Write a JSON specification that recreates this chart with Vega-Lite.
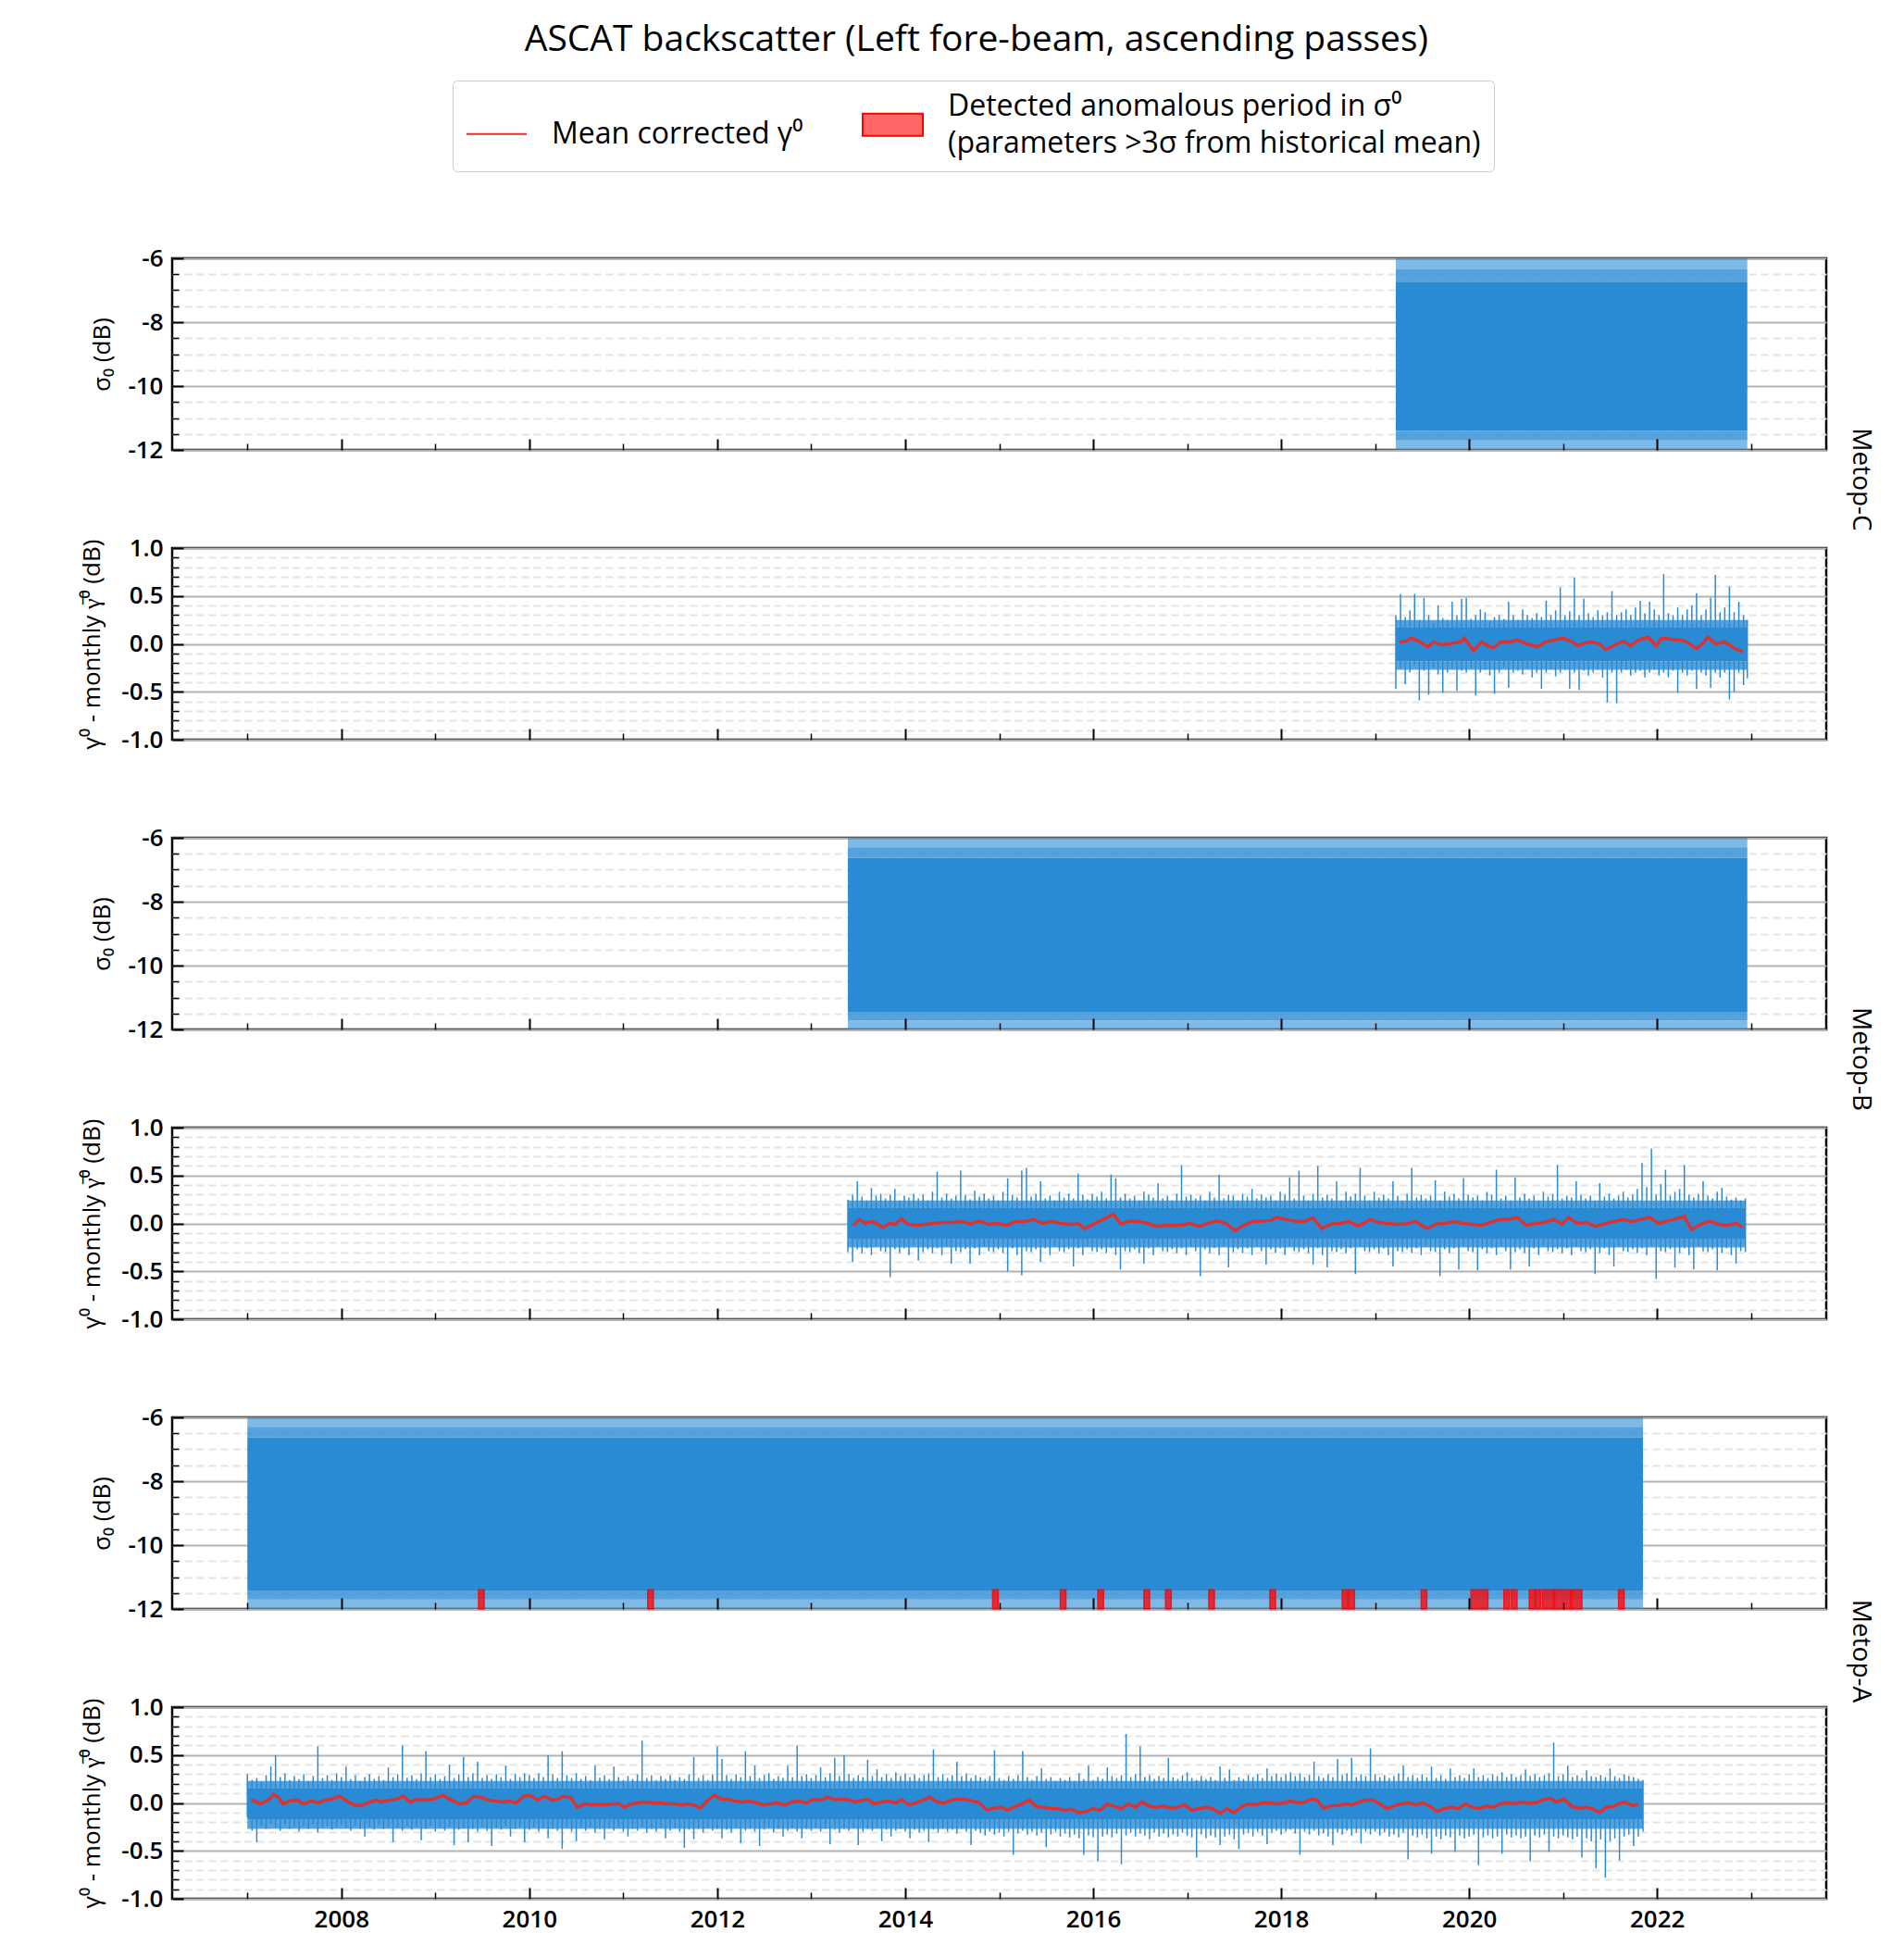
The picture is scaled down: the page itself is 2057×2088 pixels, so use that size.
{
"$schema": "https://vega.github.io/schema/vega-lite/v6.json",
"background": "white",
"padding": {"left": 85, "top": 23, "right": 10, "bottom": 0},
"title": {"text": "ASCAT backscatter (Left fore-beam, ascending passes)", "fontSize": 39, "fontWeight": "normal", "font": "Open Sans", "color": "black", "anchor": "middle", "offset": 24},
"config": {
  "font": "Open Sans",
  "view": {"stroke": "black", "strokeWidth": 2.5},
  "axis": {"domain": false, "labelFont": "Open Sans", "labelFontSize": 26, "labelFontWeight": 600, "labelColor": "black", "titleFont": "Open Sans", "titleFontSize": 26, "titleFontWeight": "normal", "titleColor": "black", "tickColor": "black", "labelOverlap": false, "labelFlush": false}
},
"datasets": {
  "sig": [
    {"s":"C","t0":2019.22,"t1":2022.96,"lo":-11.4,"hi":-6.75,"p":"core"},
    {"s":"C","t0":2019.22,"t1":2022.96,"lo":-6.75,"hi":-6.35,"p":"inner"},
    {"s":"C","t0":2019.22,"t1":2022.96,"lo":-6.35,"hi":-6.0,"p":"outer"},
    {"s":"C","t0":2019.22,"t1":2022.96,"lo":-11.7,"hi":-11.4,"p":"inner"},
    {"s":"C","t0":2019.22,"t1":2022.96,"lo":-12.0,"hi":-11.7,"p":"outer"},
    {"s":"B","t0":2013.39,"t1":2022.96,"lo":-11.45,"hi":-6.62,"p":"core"},
    {"s":"B","t0":2013.39,"t1":2022.96,"lo":-6.62,"hi":-6.3,"p":"inner"},
    {"s":"B","t0":2013.39,"t1":2022.96,"lo":-6.3,"hi":-6.0,"p":"outer"},
    {"s":"B","t0":2013.39,"t1":2022.96,"lo":-11.72,"hi":-11.45,"p":"inner"},
    {"s":"B","t0":2013.39,"t1":2022.96,"lo":-12.0,"hi":-11.72,"p":"outer"},
    {"s":"A","t0":2007.0,"t1":2021.85,"lo":-11.42,"hi":-6.62,"p":"core"},
    {"s":"A","t0":2007.0,"t1":2021.85,"lo":-6.62,"hi":-6.3,"p":"inner"},
    {"s":"A","t0":2007.0,"t1":2021.85,"lo":-6.3,"hi":-6.0,"p":"outer"},
    {"s":"A","t0":2007.0,"t1":2021.85,"lo":-11.7,"hi":-11.42,"p":"inner"},
    {"s":"A","t0":2007.0,"t1":2021.85,"lo":-12.0,"hi":-11.7,"p":"outer"}
  ],
  "core": [
    {"s":"C","t0":2019.22,"t1":2022.96,"lo":-0.18,"hi":0.17,"p":"core"},
    {"s":"C","t0":2019.22,"t1":2022.96,"lo":0.17,"hi":0.25,"p":"inner"},
    {"s":"C","t0":2019.22,"t1":2022.96,"lo":-0.27,"hi":-0.18,"p":"inner"},
    {"s":"B","t0":2013.39,"t1":2022.94,"lo":-0.16,"hi":0.16,"p":"core"},
    {"s":"B","t0":2013.39,"t1":2022.94,"lo":0.16,"hi":0.24,"p":"inner"},
    {"s":"B","t0":2013.39,"t1":2022.94,"lo":-0.25,"hi":-0.16,"p":"inner"},
    {"s":"A","t0":2007.0,"t1":2021.85,"lo":-0.17,"hi":0.15,"p":"core"},
    {"s":"A","t0":2007.0,"t1":2021.85,"lo":0.15,"hi":0.23,"p":"inner"},
    {"s":"A","t0":2007.0,"t1":2021.85,"lo":-0.27,"hi":-0.17,"p":"inner"}
  ],
  "anom": [
    {"t0":2009.46,"t1":2009.52},{"t0":2011.26,"t1":2011.32},{"t0":2014.93,"t1":2014.99},{"t0":2015.65,"t1":2015.71},
    {"t0":2016.05,"t1":2016.11},{"t0":2016.54,"t1":2016.60},{"t0":2016.77,"t1":2016.83},{"t0":2017.23,"t1":2017.29},
    {"t0":2017.88,"t1":2017.94},{"t0":2018.65,"t1":2018.71},{"t0":2018.72,"t1":2018.78},{"t0":2019.49,"t1":2019.55},
    {"t0":2020.02,"t1":2020.20},{"t0":2020.37,"t1":2020.43},{"t0":2020.45,"t1":2020.51},{"t0":2020.64,"t1":2020.70},
    {"t0":2020.71,"t1":2020.76},{"t0":2020.78,"t1":2020.90},{"t0":2020.91,"t1":2021.08},{"t0":2021.09,"t1":2021.20},
    {"t0":2021.59,"t1":2021.65}
  ],
  "mC": [
    {"t":2019.26,"m":0.02},{"t":2019.33,"m":0.03},{"t":2019.39,"m":0.06},{"t":2019.46,"m":0.03},{"t":2019.56,"m":-0.03},{"t":2019.62,"m":0.02},{"t":2019.70,"m":-0.01},{"t":2019.78,"m":0.0},{"t":2019.91,"m":0.02},{"t":2019.95,"m":0.06},{"t":2020.01,"m":-0.02},{"t":2020.05,"m":-0.07},{"t":2020.13,"m":0.02},{"t":2020.20,"m":-0.02},{"t":2020.26,"m":-0.04},{"t":2020.34,"m":0.02},{"t":2020.44,"m":0.02},{"t":2020.505,"m":0.04},{"t":2020.61,"m":0.0},{"t":2020.73,"m":-0.03},{"t":2020.81,"m":0.02},{"t":2020.90,"m":0.04},{"t":2021.00,"m":0.06},{"t":2021.08,"m":0.03},{"t":2021.16,"m":-0.02},{"t":2021.23,"m":0.01},{"t":2021.31,"m":0.02},{"t":2021.39,"m":0.0},{"t":2021.45,"m":-0.06},{"t":2021.555,"m":-0.01},{"t":2021.64,"m":0.03},{"t":2021.72,"m":-0.02},{"t":2021.80,"m":0.04},{"t":2021.905,"m":0.07},{"t":2021.99,"m":-0.02},{"t":2022.05,"m":0.06},{"t":2022.13,"m":0.05},{"t":2022.21,"m":0.04},{"t":2022.30,"m":0.03},{"t":2022.42,"m":-0.05},{"t":2022.48,"m":0.0},{"t":2022.54,"m":0.07},{"t":2022.63,"m":0.0},{"t":2022.71,"m":0.02},{"t":2022.77,"m":-0.01},{"t":2022.83,"m":-0.05},{"t":2022.91,"m":-0.08}
  ],
  "mB": [
    {"t":2013.448,"m":-0.02},{"t":2013.512,"m":0.04},{"t":2013.576,"m":0.0},{"t":2013.64,"m":0.02},{"t":2013.704,"m":-0.006},{"t":2013.767,"m":-0.04},{"t":2013.831,"m":0.0},{"t":2013.895,"m":-0.01},{"t":2013.959,"m":0.05},{"t":2014.023,"m":-0.006},{"t":2014.119,"m":-0.02},{"t":2014.215,"m":-0.01},{"t":2014.311,"m":0.0},{"t":2014.407,"m":0.01},{"t":2014.503,"m":0.01},{"t":2014.599,"m":0.02},{"t":2014.695,"m":-0.006},{"t":2014.791,"m":0.025},{"t":2014.886,"m":-0.01},{"t":2014.982,"m":0.0},{"t":2015.078,"m":-0.02},{"t":2015.174,"m":0.02},{"t":2015.27,"m":0.02},{"t":2015.366,"m":0.04},{"t":2015.462,"m":0.0},{"t":2015.558,"m":0.02},{"t":2015.654,"m":0.0},{"t":2015.75,"m":-0.01},{"t":2015.845,"m":-0.006},{"t":2015.909,"m":-0.054},{"t":2016.005,"m":-0.006},{"t":2016.101,"m":0.04},{"t":2016.216,"m":0.095},{"t":2016.293,"m":-0.006},{"t":2016.389,"m":0.025},{"t":2016.485,"m":0.02},{"t":2016.581,"m":0.0},{"t":2016.677,"m":-0.03},{"t":2016.805,"m":-0.02},{"t":2016.932,"m":-0.02},{"t":2017.028,"m":0.0},{"t":2017.124,"m":-0.03},{"t":2017.22,"m":0.0},{"t":2017.316,"m":0.025},{"t":2017.412,"m":0.0},{"t":2017.508,"m":-0.076},{"t":2017.604,"m":-0.02},{"t":2017.7,"m":0.02},{"t":2017.796,"m":0.025},{"t":2017.892,"m":0.03},{"t":2017.955,"m":0.063},{"t":2018.051,"m":0.04},{"t":2018.147,"m":0.025},{"t":2018.243,"m":0.02},{"t":2018.339,"m":0.057},{"t":2018.435,"m":-0.054},{"t":2018.531,"m":-0.006},{"t":2018.627,"m":0.0},{"t":2018.723,"m":0.02},{"t":2018.819,"m":-0.03},{"t":2018.947,"m":0.04},{"t":2019.042,"m":0.01},{"t":2019.138,"m":0.0},{"t":2019.234,"m":-0.01},{"t":2019.33,"m":-0.006},{"t":2019.426,"m":0.02},{"t":2019.554,"m":-0.054},{"t":2019.65,"m":-0.006},{"t":2019.746,"m":0.0},{"t":2019.842,"m":0.02},{"t":2019.938,"m":0.0},{"t":2020.033,"m":-0.01},{"t":2020.129,"m":-0.02},{"t":2020.225,"m":0.01},{"t":2020.321,"m":0.04},{"t":2020.417,"m":0.04},{"t":2020.513,"m":0.063},{"t":2020.609,"m":-0.02},{"t":2020.705,"m":0.0},{"t":2020.801,"m":0.01},{"t":2020.897,"m":0.04},{"t":2020.993,"m":-0.006},{"t":2021.056,"m":0.063},{"t":2021.152,"m":0.0},{"t":2021.248,"m":0.01},{"t":2021.344,"m":-0.03},{"t":2021.44,"m":-0.006},{"t":2021.536,"m":0.02},{"t":2021.632,"m":0.04},{"t":2021.728,"m":0.02},{"t":2021.824,"m":0.04},{"t":2021.92,"m":0.063},{"t":2022.016,"m":0.0},{"t":2022.112,"m":0.025},{"t":2022.207,"m":0.05},{"t":2022.29,"m":0.073},{"t":2022.367,"m":-0.063},{"t":2022.463,"m":-0.01},{"t":2022.559,"m":0.025},{"t":2022.655,"m":-0.01},{"t":2022.751,"m":-0.02},{"t":2022.847,"m":0.0},{"t":2022.911,"m":-0.04}
  ],
  "mA": [
    {"t":2007.04,"m":0.03},{"t":2007.08,"m":0.02},{"t":2007.13,"m":-0.01},{"t":2007.18,"m":0.01},{"t":2007.23,"m":0.035},{"t":2007.28,"m":0.09},{"t":2007.33,"m":0.06},{"t":2007.38,"m":-0.01},{"t":2007.45,"m":0.02},{"t":2007.53,"m":0.03},{"t":2007.60,"m":-0.01},{"t":2007.68,"m":0.02},{"t":2007.75,"m":0.0},{"t":2007.83,"m":0.03},{"t":2007.90,"m":0.04},{"t":2007.98,"m":0.07},{"t":2008.06,"m":0.02},{"t":2008.13,"m":-0.02},{"t":2008.21,"m":-0.03},{"t":2008.28,"m":0.0},{"t":2008.36,"m":0.03},{"t":2008.43,"m":0.01},{"t":2008.51,"m":0.03},{"t":2008.58,"m":0.035},{"t":2008.66,"m":0.07},{"t":2008.73,"m":0.01},{"t":2008.81,"m":0.035},{"t":2008.88,"m":0.03},{"t":2008.98,"m":0.04},{"t":2009.08,"m":0.08},{"t":2009.16,"m":0.035},{"t":2009.26,"m":-0.01},{"t":2009.33,"m":0.0},{"t":2009.41,"m":0.07},{"t":2009.48,"m":0.06},{"t":2009.56,"m":0.03},{"t":2009.63,"m":0.02},{"t":2009.71,"m":0.01},{"t":2009.79,"m":0.02},{"t":2009.86,"m":0.0},{"t":2009.94,"m":0.07},{"t":2010.01,"m":0.08},{"t":2010.09,"m":0.03},{"t":2010.16,"m":0.07},{"t":2010.24,"m":0.03},{"t":2010.31,"m":0.04},{"t":2010.36,"m":0.07},{"t":2010.44,"m":0.06},{"t":2010.51,"m":-0.045},{"t":2010.59,"m":-0.01},{"t":2010.66,"m":-0.02},{"t":2010.74,"m":-0.015},{"t":2010.81,"m":-0.02},{"t":2010.89,"m":-0.01},{"t":2010.96,"m":-0.01},{"t":2011.01,"m":-0.045},{"t":2011.09,"m":-0.01},{"t":2011.16,"m":0.0},{"t":2011.24,"m":0.01},{"t":2011.32,"m":0.0},{"t":2011.39,"m":0.0},{"t":2011.47,"m":-0.01},{"t":2011.54,"m":-0.01},{"t":2011.62,"m":-0.02},{"t":2011.69,"m":-0.01},{"t":2011.77,"m":-0.03},{"t":2011.82,"m":-0.055},{"t":2011.89,"m":0.02},{"t":2011.97,"m":0.08},{"t":2012.04,"m":0.04},{"t":2012.12,"m":0.035},{"t":2012.19,"m":0.02},{"t":2012.27,"m":0.01},{"t":2012.34,"m":0.02},{"t":2012.42,"m":0.0},{"t":2012.49,"m":-0.02},{"t":2012.57,"m":-0.01},{"t":2012.64,"m":0.0},{"t":2012.72,"m":-0.02},{"t":2012.79,"m":0.01},{"t":2012.87,"m":0.02},{"t":2012.95,"m":0.0},{"t":2013.02,"m":0.035},{"t":2013.10,"m":0.03},{"t":2013.17,"m":0.06},{"t":2013.25,"m":0.035},{"t":2013.32,"m":0.04},{"t":2013.40,"m":0.03},{"t":2013.47,"m":0.01},{"t":2013.55,"m":0.03},{"t":2013.60,"m":0.035},{"t":2013.67,"m":-0.01},{"t":2013.75,"m":0.01},{"t":2013.82,"m":0.02},{"t":2013.90,"m":0.0},{"t":2013.96,"m":0.035},{"t":2014.04,"m":-0.02},{"t":2014.11,"m":0.0},{"t":2014.19,"m":0.03},{"t":2014.26,"m":0.06},{"t":2014.34,"m":0.01},{"t":2014.42,"m":0.0},{"t":2014.49,"m":0.03},{"t":2014.57,"m":0.04},{"t":2014.64,"m":0.035},{"t":2014.72,"m":0.02},{"t":2014.79,"m":0.0},{"t":2014.87,"m":-0.075},{"t":2014.94,"m":-0.055},{"t":2015.02,"m":-0.045},{"t":2015.09,"m":-0.075},{"t":2015.17,"m":-0.035},{"t":2015.24,"m":-0.01},{"t":2015.32,"m":0.03},{"t":2015.39,"m":-0.035},{"t":2015.47,"m":-0.045},{"t":2015.54,"m":-0.055},{"t":2015.62,"m":-0.06},{"t":2015.69,"m":-0.075},{"t":2015.77,"m":-0.065},{"t":2015.84,"m":-0.1},{"t":2015.92,"m":-0.09},{"t":2016.00,"m":-0.06},{"t":2016.07,"m":-0.075},{"t":2016.15,"m":-0.01},{"t":2016.22,"m":-0.035},{"t":2016.30,"m":-0.06},{"t":2016.37,"m":-0.01},{"t":2016.45,"m":-0.045},{"t":2016.52,"m":0.01},{"t":2016.60,"m":-0.035},{"t":2016.67,"m":-0.045},{"t":2016.75,"m":-0.03},{"t":2016.82,"m":-0.055},{"t":2016.90,"m":-0.045},{"t":2016.97,"m":-0.02},{"t":2017.05,"m":-0.075},{"t":2017.12,"m":-0.06},{"t":2017.20,"m":-0.045},{"t":2017.27,"m":-0.06},{"t":2017.35,"m":-0.11},{"t":2017.42,"m":-0.06},{"t":2017.50,"m":-0.1},{"t":2017.57,"m":-0.045},{"t":2017.65,"m":-0.01},{"t":2017.73,"m":-0.02},{"t":2017.80,"m":0.0},{"t":2017.88,"m":0.0},{"t":2017.95,"m":-0.01},{"t":2018.03,"m":0.0},{"t":2018.10,"m":0.02},{"t":2018.18,"m":0.0},{"t":2018.25,"m":0.01},{"t":2018.33,"m":0.04},{"t":2018.38,"m":0.03},{"t":2018.45,"m":-0.055},{"t":2018.53,"m":-0.03},{"t":2018.60,"m":-0.03},{"t":2018.68,"m":-0.01},{"t":2018.75,"m":-0.02},{"t":2018.83,"m":0.01},{"t":2018.90,"m":0.03},{"t":2018.98,"m":0.03},{"t":2019.05,"m":-0.01},{"t":2019.13,"m":-0.06},{"t":2019.20,"m":-0.03},{"t":2019.28,"m":-0.01},{"t":2019.36,"m":0.0},{"t":2019.43,"m":-0.02},{"t":2019.51,"m":0.0},{"t":2019.58,"m":-0.035},{"t":2019.66,"m":-0.09},{"t":2019.73,"m":-0.06},{"t":2019.81,"m":-0.045},{"t":2019.88,"m":-0.06},{"t":2019.96,"m":-0.01},{"t":2020.03,"m":-0.045},{"t":2020.11,"m":-0.06},{"t":2020.18,"m":-0.03},{"t":2020.26,"m":-0.045},{"t":2020.33,"m":-0.01},{"t":2020.41,"m":0.0},{"t":2020.48,"m":-0.01},{"t":2020.56,"m":0.01},{"t":2020.63,"m":0.0},{"t":2020.71,"m":0.0},{"t":2020.78,"m":0.03},{"t":2020.86,"m":0.05},{"t":2020.93,"m":0.01},{"t":2021.01,"m":0.04},{"t":2021.09,"m":-0.035},{"t":2021.16,"m":-0.055},{"t":2021.24,"m":-0.045},{"t":2021.31,"m":-0.06},{"t":2021.39,"m":-0.1},{"t":2021.46,"m":-0.045},{"t":2021.54,"m":-0.035},{"t":2021.61,"m":0.0},{"t":2021.66,"m":0.01},{"t":2021.74,"m":-0.03},{"t":2021.80,"m":-0.01}
  ],
  "gC": [
    {"t":2019.22,"lo":-0.47,"hi":0.3},{"t":2019.27,"lo":-0.25,"hi":0.52},{"t":2019.32,"lo":-0.42,"hi":0.28},{"t":2019.37,"lo":-0.3,"hi":0.35},{"t":2019.42,"lo":-0.22,"hi":0.52},{"t":2019.47,"lo":-0.59,"hi":0.25},{"t":2019.52,"lo":-0.28,"hi":0.48},{"t":2019.57,"lo":-0.53,"hi":0.3},{"t":2019.62,"lo":-0.25,"hi":0.22},{"t":2019.67,"lo":-0.32,"hi":0.4},{"t":2019.72,"lo":-0.51,"hi":0.27},{"t":2019.77,"lo":-0.3,"hi":0.25},{"t":2019.82,"lo":-0.26,"hi":0.44},{"t":2019.87,"lo":-0.49,"hi":0.3},{"t":2019.92,"lo":-0.28,"hi":0.47},{"t":2019.97,"lo":-0.3,"hi":0.48},
    {"t":2020.02,"lo":-0.25,"hi":0.26},{"t":2020.07,"lo":-0.54,"hi":0.3},{"t":2020.12,"lo":-0.3,"hi":0.36},{"t":2020.17,"lo":-0.27,"hi":0.33},{"t":2020.22,"lo":-0.33,"hi":0.24},{"t":2020.27,"lo":-0.52,"hi":0.28},{"t":2020.32,"lo":-0.3,"hi":0.3},{"t":2020.37,"lo":-0.25,"hi":0.26},{"t":2020.42,"lo":-0.46,"hi":0.44},{"t":2020.47,"lo":-0.3,"hi":0.3},{"t":2020.52,"lo":-0.28,"hi":0.25},{"t":2020.57,"lo":-0.32,"hi":0.36},{"t":2020.62,"lo":-0.26,"hi":0.3},{"t":2020.67,"lo":-0.35,"hi":0.27},{"t":2020.72,"lo":-0.3,"hi":0.32},{"t":2020.77,"lo":-0.47,"hi":0.28},{"t":2020.82,"lo":-0.3,"hi":0.45},{"t":2020.87,"lo":-0.26,"hi":0.3},{"t":2020.92,"lo":-0.34,"hi":0.35},{"t":2020.97,"lo":-0.3,"hi":0.59},
    {"t":2021.02,"lo":-0.27,"hi":0.3},{"t":2021.07,"lo":-0.47,"hi":0.34},{"t":2021.12,"lo":-0.3,"hi":0.69},{"t":2021.17,"lo":-0.48,"hi":0.3},{"t":2021.22,"lo":-0.28,"hi":0.47},{"t":2021.27,"lo":-0.33,"hi":0.32},{"t":2021.32,"lo":-0.3,"hi":0.28},{"t":2021.37,"lo":-0.27,"hi":0.35},{"t":2021.42,"lo":-0.35,"hi":0.3},{"t":2021.47,"lo":-0.61,"hi":0.33},{"t":2021.52,"lo":-0.3,"hi":0.55},{"t":2021.57,"lo":-0.62,"hi":0.3},{"t":2021.62,"lo":-0.3,"hi":0.33},{"t":2021.67,"lo":-0.27,"hi":0.36},{"t":2021.72,"lo":-0.33,"hi":0.3},{"t":2021.77,"lo":-0.3,"hi":0.38},{"t":2021.82,"lo":-0.28,"hi":0.45},{"t":2021.87,"lo":-0.35,"hi":0.32},{"t":2021.92,"lo":-0.3,"hi":0.44},{"t":2021.97,"lo":-0.27,"hi":0.36},
    {"t":2022.02,"lo":-0.33,"hi":0.3},{"t":2022.07,"lo":-0.3,"hi":0.73},{"t":2022.12,"lo":-0.35,"hi":0.32},{"t":2022.17,"lo":-0.28,"hi":0.3},{"t":2022.22,"lo":-0.51,"hi":0.38},{"t":2022.27,"lo":-0.3,"hi":0.3},{"t":2022.32,"lo":-0.33,"hi":0.36},{"t":2022.37,"lo":-0.28,"hi":0.4},{"t":2022.42,"lo":-0.47,"hi":0.53},{"t":2022.47,"lo":-0.3,"hi":0.3},{"t":2022.52,"lo":-0.33,"hi":0.36},{"t":2022.57,"lo":-0.46,"hi":0.48},{"t":2022.62,"lo":-0.3,"hi":0.72},{"t":2022.67,"lo":-0.35,"hi":0.33},{"t":2022.72,"lo":-0.3,"hi":0.38},{"t":2022.77,"lo":-0.58,"hi":0.6},{"t":2022.82,"lo":-0.5,"hi":0.33},{"t":2022.87,"lo":-0.3,"hi":0.44},{"t":2022.92,"lo":-0.43,"hi":0.3},{"t":2022.96,"lo":-0.36,"hi":0.25}
  ],
  "gB": [
    {"t":2013.39,"lo":-0.30,"hi":0.25},{"t":2013.44,"lo":-0.40,"hi":0.30},{"t":2013.49,"lo":-0.27,"hi":0.44},{"t":2013.54,"lo":-0.31,"hi":0.28},{"t":2013.59,"lo":-0.26,"hi":0.24},{"t":2013.64,"lo":-0.33,"hi":0.37},{"t":2013.69,"lo":-0.24,"hi":0.29},{"t":2013.74,"lo":-0.29,"hi":0.31},{"t":2013.79,"lo":-0.30,"hi":0.26},{"t":2013.84,"lo":-0.56,"hi":0.30},{"t":2013.89,"lo":-0.27,"hi":0.36},{"t":2013.94,"lo":-0.31,"hi":0.24},{"t":2013.99,"lo":-0.26,"hi":0.29},
    {"t":2014.04,"lo":-0.33,"hi":0.27},{"t":2014.09,"lo":-0.23,"hi":0.31},{"t":2014.14,"lo":-0.39,"hi":0.26},{"t":2014.19,"lo":-0.30,"hi":0.30},{"t":2014.24,"lo":-0.27,"hi":0.24},{"t":2014.29,"lo":-0.31,"hi":0.33},{"t":2014.34,"lo":-0.26,"hi":0.54},{"t":2014.39,"lo":-0.33,"hi":0.27},{"t":2014.44,"lo":-0.24,"hi":0.31},{"t":2014.49,"lo":-0.42,"hi":0.26},{"t":2014.54,"lo":-0.29,"hi":0.29},{"t":2014.59,"lo":-0.30,"hi":0.55},{"t":2014.64,"lo":-0.27,"hi":0.30},{"t":2014.69,"lo":-0.42,"hi":0.25},{"t":2014.74,"lo":-0.26,"hi":0.34},{"t":2014.79,"lo":-0.33,"hi":0.28},{"t":2014.84,"lo":-0.24,"hi":0.31},{"t":2014.89,"lo":-0.29,"hi":0.26},{"t":2014.94,"lo":-0.30,"hi":0.29},{"t":2014.99,"lo":-0.27,"hi":0.24},
    {"t":2015.04,"lo":-0.31,"hi":0.33},{"t":2015.09,"lo":-0.50,"hi":0.47},{"t":2015.14,"lo":-0.26,"hi":0.30},{"t":2015.19,"lo":-0.33,"hi":0.27},{"t":2015.24,"lo":-0.54,"hi":0.55},{"t":2015.29,"lo":-0.29,"hi":0.58},{"t":2015.34,"lo":-0.30,"hi":0.28},{"t":2015.39,"lo":-0.27,"hi":0.31},{"t":2015.44,"lo":-0.40,"hi":0.44},{"t":2015.49,"lo":-0.26,"hi":0.26},{"t":2015.54,"lo":-0.33,"hi":0.29},{"t":2015.59,"lo":-0.24,"hi":0.24},{"t":2015.64,"lo":-0.29,"hi":0.33},{"t":2015.69,"lo":-0.30,"hi":0.27},{"t":2015.74,"lo":-0.27,"hi":0.31},{"t":2015.79,"lo":-0.45,"hi":0.26},{"t":2015.84,"lo":-0.26,"hi":0.52},{"t":2015.89,"lo":-0.33,"hi":0.30},{"t":2015.94,"lo":-0.24,"hi":0.25},{"t":2015.99,"lo":-0.29,"hi":0.31},
    {"t":2016.04,"lo":-0.30,"hi":0.28},{"t":2016.09,"lo":-0.27,"hi":0.33},{"t":2016.14,"lo":-0.31,"hi":0.26},{"t":2016.19,"lo":-0.26,"hi":0.51},{"t":2016.24,"lo":-0.33,"hi":0.47},{"t":2016.29,"lo":-0.48,"hi":0.27},{"t":2016.34,"lo":-0.29,"hi":0.31},{"t":2016.39,"lo":-0.30,"hi":0.26},{"t":2016.44,"lo":-0.27,"hi":0.29},{"t":2016.49,"lo":-0.31,"hi":0.24},{"t":2016.54,"lo":-0.42,"hi":0.33},{"t":2016.59,"lo":-0.26,"hi":0.30},{"t":2016.64,"lo":-0.33,"hi":0.27},{"t":2016.69,"lo":-0.24,"hi":0.42},{"t":2016.74,"lo":-0.29,"hi":0.26},{"t":2016.79,"lo":-0.30,"hi":0.29},{"t":2016.84,"lo":-0.27,"hi":0.24},{"t":2016.89,"lo":-0.31,"hi":0.31},{"t":2016.94,"lo":-0.26,"hi":0.61},{"t":2016.99,"lo":-0.33,"hi":0.28},
    {"t":2017.04,"lo":-0.24,"hi":0.30},{"t":2017.09,"lo":-0.29,"hi":0.26},{"t":2017.14,"lo":-0.55,"hi":0.29},{"t":2017.19,"lo":-0.27,"hi":0.24},{"t":2017.24,"lo":-0.31,"hi":0.33},{"t":2017.29,"lo":-0.26,"hi":0.27},{"t":2017.34,"lo":-0.33,"hi":0.51},{"t":2017.39,"lo":-0.24,"hi":0.26},{"t":2017.44,"lo":-0.46,"hi":0.30},{"t":2017.49,"lo":-0.30,"hi":0.29},{"t":2017.54,"lo":-0.27,"hi":0.24},{"t":2017.59,"lo":-0.31,"hi":0.31},{"t":2017.64,"lo":-0.26,"hi":0.28},{"t":2017.69,"lo":-0.33,"hi":0.36},{"t":2017.74,"lo":-0.24,"hi":0.26},{"t":2017.79,"lo":-0.29,"hi":0.30},{"t":2017.84,"lo":-0.43,"hi":0.27},{"t":2017.89,"lo":-0.27,"hi":0.29},{"t":2017.94,"lo":-0.31,"hi":0.24},{"t":2017.99,"lo":-0.26,"hi":0.33},
    {"t":2018.04,"lo":-0.33,"hi":0.30},{"t":2018.09,"lo":-0.24,"hi":0.48},{"t":2018.14,"lo":-0.29,"hi":0.26},{"t":2018.19,"lo":-0.30,"hi":0.55},{"t":2018.24,"lo":-0.27,"hi":0.29},{"t":2018.29,"lo":-0.31,"hi":0.24},{"t":2018.34,"lo":-0.43,"hi":0.31},{"t":2018.39,"lo":-0.26,"hi":0.60},{"t":2018.44,"lo":-0.33,"hi":0.27},{"t":2018.49,"lo":-0.46,"hi":0.30},{"t":2018.54,"lo":-0.29,"hi":0.26},{"t":2018.59,"lo":-0.30,"hi":0.44},{"t":2018.64,"lo":-0.27,"hi":0.24},{"t":2018.69,"lo":-0.31,"hi":0.33},{"t":2018.74,"lo":-0.26,"hi":0.28},{"t":2018.79,"lo":-0.53,"hi":0.31},{"t":2018.84,"lo":-0.24,"hi":0.58},{"t":2018.89,"lo":-0.29,"hi":0.29},{"t":2018.94,"lo":-0.30,"hi":0.24},{"t":2018.99,"lo":-0.27,"hi":0.33},
    {"t":2019.04,"lo":-0.31,"hi":0.27},{"t":2019.09,"lo":-0.26,"hi":0.30},{"t":2019.14,"lo":-0.33,"hi":0.26},{"t":2019.19,"lo":-0.45,"hi":0.44},{"t":2019.24,"lo":-0.29,"hi":0.29},{"t":2019.29,"lo":-0.30,"hi":0.24},{"t":2019.34,"lo":-0.27,"hi":0.31},{"t":2019.39,"lo":-0.31,"hi":0.58},{"t":2019.44,"lo":-0.26,"hi":0.27},{"t":2019.49,"lo":-0.33,"hi":0.30},{"t":2019.54,"lo":-0.24,"hi":0.26},{"t":2019.59,"lo":-0.29,"hi":0.29},{"t":2019.64,"lo":-0.30,"hi":0.45},{"t":2019.69,"lo":-0.55,"hi":0.24},{"t":2019.74,"lo":-0.27,"hi":0.33},{"t":2019.79,"lo":-0.31,"hi":0.28},{"t":2019.84,"lo":-0.26,"hi":0.31},{"t":2019.89,"lo":-0.48,"hi":0.26},{"t":2019.94,"lo":-0.24,"hi":0.47},{"t":2019.99,"lo":-0.29,"hi":0.30},
    {"t":2020.04,"lo":-0.30,"hi":0.27},{"t":2020.09,"lo":-0.49,"hi":0.29},{"t":2020.14,"lo":-0.27,"hi":0.24},{"t":2020.19,"lo":-0.31,"hi":0.33},{"t":2020.24,"lo":-0.26,"hi":0.30},{"t":2020.29,"lo":-0.33,"hi":0.56},{"t":2020.34,"lo":-0.24,"hi":0.26},{"t":2020.39,"lo":-0.29,"hi":0.29},{"t":2020.44,"lo":-0.48,"hi":0.24},{"t":2020.49,"lo":-0.30,"hi":0.48},{"t":2020.54,"lo":-0.27,"hi":0.27},{"t":2020.59,"lo":-0.31,"hi":0.31},{"t":2020.64,"lo":-0.45,"hi":0.26},{"t":2020.69,"lo":-0.26,"hi":0.29},{"t":2020.74,"lo":-0.33,"hi":0.24},{"t":2020.79,"lo":-0.24,"hi":0.33},{"t":2020.84,"lo":-0.29,"hi":0.28},{"t":2020.89,"lo":-0.30,"hi":0.31},{"t":2020.94,"lo":-0.27,"hi":0.61},{"t":2020.99,"lo":-0.31,"hi":0.26},
    {"t":2021.04,"lo":-0.26,"hi":0.29},{"t":2021.09,"lo":-0.33,"hi":0.27},{"t":2021.14,"lo":-0.24,"hi":0.44},{"t":2021.19,"lo":-0.29,"hi":0.30},{"t":2021.24,"lo":-0.30,"hi":0.26},{"t":2021.29,"lo":-0.27,"hi":0.29},{"t":2021.34,"lo":-0.53,"hi":0.24},{"t":2021.39,"lo":-0.31,"hi":0.42},{"t":2021.44,"lo":-0.26,"hi":0.28},{"t":2021.49,"lo":-0.33,"hi":0.31},{"t":2021.54,"lo":-0.45,"hi":0.26},{"t":2021.59,"lo":-0.24,"hi":0.29},{"t":2021.64,"lo":-0.29,"hi":0.33},{"t":2021.69,"lo":-0.30,"hi":0.27},{"t":2021.74,"lo":-0.27,"hi":0.30},{"t":2021.79,"lo":-0.31,"hi":0.36},{"t":2021.84,"lo":-0.26,"hi":0.63},{"t":2021.89,"lo":-0.33,"hi":0.38},{"t":2021.94,"lo":-0.24,"hi":0.78},{"t":2021.99,"lo":-0.58,"hi":0.30},
    {"t":2022.04,"lo":-0.29,"hi":0.41},{"t":2022.09,"lo":-0.30,"hi":0.56},{"t":2022.14,"lo":-0.27,"hi":0.29},{"t":2022.19,"lo":-0.46,"hi":0.33},{"t":2022.24,"lo":-0.31,"hi":0.36},{"t":2022.29,"lo":-0.26,"hi":0.61},{"t":2022.34,"lo":-0.33,"hi":0.30},{"t":2022.39,"lo":-0.48,"hi":0.27},{"t":2022.44,"lo":-0.24,"hi":0.31},{"t":2022.49,"lo":-0.29,"hi":0.44},{"t":2022.54,"lo":-0.30,"hi":0.29},{"t":2022.59,"lo":-0.27,"hi":0.26},{"t":2022.64,"lo":-0.49,"hi":0.33},{"t":2022.69,"lo":-0.31,"hi":0.37},{"t":2022.74,"lo":-0.26,"hi":0.28},{"t":2022.79,"lo":-0.33,"hi":0.25},{"t":2022.84,"lo":-0.42,"hi":0.27},{"t":2022.89,"lo":-0.29,"hi":0.24},{"t":2022.94,"lo":-0.30,"hi":0.26}
  ],
  "gA": [
    {"t":2007.00,"lo":-0.15,"hi":0.30},{"t":2007.05,"lo":-0.29,"hi":0.24},{"t":2007.10,"lo":-0.41,"hi":0.26},{"t":2007.15,"lo":-0.24,"hi":0.22},{"t":2007.20,"lo":-0.27,"hi":0.29},{"t":2007.25,"lo":-0.22,"hi":0.38},{"t":2007.30,"lo":-0.26,"hi":0.50},{"t":2007.35,"lo":-0.29,"hi":0.27},{"t":2007.40,"lo":-0.23,"hi":0.31},{"t":2007.45,"lo":-0.27,"hi":0.24},{"t":2007.50,"lo":-0.25,"hi":0.28},{"t":2007.55,"lo":-0.30,"hi":0.25},{"t":2007.60,"lo":-0.24,"hi":0.30},{"t":2007.65,"lo":-0.27,"hi":0.23},{"t":2007.70,"lo":-0.22,"hi":0.28},{"t":2007.75,"lo":-0.31,"hi":0.59},{"t":2007.80,"lo":-0.26,"hi":0.26},{"t":2007.85,"lo":-0.24,"hi":0.29},{"t":2007.90,"lo":-0.28,"hi":0.24},{"t":2007.95,"lo":-0.25,"hi":0.31},
    {"t":2008.00,"lo":-0.23,"hi":0.27},{"t":2008.05,"lo":-0.26,"hi":0.38},{"t":2008.10,"lo":-0.29,"hi":0.25},{"t":2008.15,"lo":-0.24,"hi":0.29},{"t":2008.20,"lo":-0.27,"hi":0.23},{"t":2008.25,"lo":-0.35,"hi":0.27},{"t":2008.30,"lo":-0.25,"hi":0.30},{"t":2008.35,"lo":-0.28,"hi":0.25},{"t":2008.40,"lo":-0.23,"hi":0.28},{"t":2008.45,"lo":-0.27,"hi":0.24},{"t":2008.50,"lo":-0.25,"hi":0.37},{"t":2008.55,"lo":-0.41,"hi":0.27},{"t":2008.60,"lo":-0.26,"hi":0.30},{"t":2008.65,"lo":-0.29,"hi":0.60},{"t":2008.70,"lo":-0.24,"hi":0.26},{"t":2008.75,"lo":-0.28,"hi":0.29},{"t":2008.80,"lo":-0.25,"hi":0.25},{"t":2008.85,"lo":-0.39,"hi":0.31},{"t":2008.90,"lo":-0.27,"hi":0.54},{"t":2008.95,"lo":-0.24,"hi":0.27},
    {"t":2009.00,"lo":-0.30,"hi":0.30},{"t":2009.05,"lo":-0.26,"hi":0.25},{"t":2009.10,"lo":-0.29,"hi":0.28},{"t":2009.15,"lo":-0.25,"hi":0.40},{"t":2009.20,"lo":-0.44,"hi":0.26},{"t":2009.25,"lo":-0.28,"hi":0.30},{"t":2009.30,"lo":-0.26,"hi":0.48},{"t":2009.35,"lo":-0.41,"hi":0.27},{"t":2009.40,"lo":-0.27,"hi":0.31},{"t":2009.45,"lo":-0.30,"hi":0.43},{"t":2009.50,"lo":-0.25,"hi":0.26},{"t":2009.55,"lo":-0.29,"hi":0.29},{"t":2009.60,"lo":-0.45,"hi":0.25},{"t":2009.65,"lo":-0.26,"hi":0.30},{"t":2009.70,"lo":-0.28,"hi":0.27},{"t":2009.75,"lo":-0.24,"hi":0.39},{"t":2009.80,"lo":-0.35,"hi":0.25},{"t":2009.85,"lo":-0.27,"hi":0.30},{"t":2009.90,"lo":-0.25,"hi":0.27},{"t":2009.95,"lo":-0.41,"hi":0.31},
    {"t":2010.00,"lo":-0.28,"hi":0.29},{"t":2010.05,"lo":-0.25,"hi":0.26},{"t":2010.10,"lo":-0.30,"hi":0.31},{"t":2010.15,"lo":-0.26,"hi":0.27},{"t":2010.20,"lo":-0.37,"hi":0.50},{"t":2010.25,"lo":-0.27,"hi":0.30},{"t":2010.30,"lo":-0.29,"hi":0.26},{"t":2010.35,"lo":-0.48,"hi":0.54},{"t":2010.40,"lo":-0.25,"hi":0.29},{"t":2010.45,"lo":-0.30,"hi":0.26},{"t":2010.50,"lo":-0.40,"hi":0.31},{"t":2010.55,"lo":-0.26,"hi":0.25},{"t":2010.60,"lo":-0.29,"hi":0.28},{"t":2010.65,"lo":-0.25,"hi":0.24},{"t":2010.70,"lo":-0.31,"hi":0.39},{"t":2010.75,"lo":-0.27,"hi":0.26},{"t":2010.80,"lo":-0.38,"hi":0.29},{"t":2010.85,"lo":-0.26,"hi":0.25},{"t":2010.90,"lo":-0.29,"hi":0.38},{"t":2010.95,"lo":-0.25,"hi":0.27},
    {"t":2011.00,"lo":-0.30,"hi":0.24},{"t":2011.05,"lo":-0.35,"hi":0.28},{"t":2011.10,"lo":-0.27,"hi":0.25},{"t":2011.15,"lo":-0.29,"hi":0.30},{"t":2011.20,"lo":-0.25,"hi":0.65},{"t":2011.25,"lo":-0.31,"hi":0.26},{"t":2011.30,"lo":-0.27,"hi":0.29},{"t":2011.35,"lo":-0.30,"hi":0.24},{"t":2011.40,"lo":-0.26,"hi":0.28},{"t":2011.45,"lo":-0.37,"hi":0.25},{"t":2011.50,"lo":-0.29,"hi":0.29},{"t":2011.55,"lo":-0.26,"hi":0.24},{"t":2011.60,"lo":-0.30,"hi":0.27},{"t":2011.65,"lo":-0.47,"hi":0.25},{"t":2011.70,"lo":-0.28,"hi":0.30},{"t":2011.75,"lo":-0.38,"hi":0.48},{"t":2011.80,"lo":-0.27,"hi":0.26},{"t":2011.85,"lo":-0.31,"hi":0.29},{"t":2011.90,"lo":-0.26,"hi":0.24},{"t":2011.95,"lo":-0.29,"hi":0.30},
    {"t":2012.00,"lo":-0.27,"hi":0.59},{"t":2012.05,"lo":-0.37,"hi":0.46},{"t":2012.10,"lo":-0.28,"hi":0.29},{"t":2012.15,"lo":-0.31,"hi":0.25},{"t":2012.20,"lo":-0.26,"hi":0.30},{"t":2012.25,"lo":-0.42,"hi":0.27},{"t":2012.30,"lo":-0.29,"hi":0.54},{"t":2012.35,"lo":-0.27,"hi":0.28},{"t":2012.40,"lo":-0.30,"hi":0.39},{"t":2012.45,"lo":-0.45,"hi":0.26},{"t":2012.50,"lo":-0.28,"hi":0.29},{"t":2012.55,"lo":-0.26,"hi":0.31},{"t":2012.60,"lo":-0.31,"hi":0.25},{"t":2012.65,"lo":-0.27,"hi":0.28},{"t":2012.70,"lo":-0.35,"hi":0.26},{"t":2012.75,"lo":-0.29,"hi":0.39},{"t":2012.80,"lo":-0.26,"hi":0.27},{"t":2012.85,"lo":-0.30,"hi":0.60},{"t":2012.90,"lo":-0.37,"hi":0.28},{"t":2012.95,"lo":-0.27,"hi":0.30},
    {"t":2013.00,"lo":-0.29,"hi":0.26},{"t":2013.05,"lo":-0.26,"hi":0.29},{"t":2013.10,"lo":-0.30,"hi":0.37},{"t":2013.15,"lo":-0.27,"hi":0.27},{"t":2013.20,"lo":-0.43,"hi":0.31},{"t":2013.25,"lo":-0.28,"hi":0.47},{"t":2013.30,"lo":-0.31,"hi":0.28},{"t":2013.35,"lo":-0.27,"hi":0.50},{"t":2013.40,"lo":-0.29,"hi":0.30},{"t":2013.45,"lo":-0.26,"hi":0.26},{"t":2013.50,"lo":-0.44,"hi":0.29},{"t":2013.55,"lo":-0.30,"hi":0.27},{"t":2013.60,"lo":-0.27,"hi":0.45},{"t":2013.65,"lo":-0.29,"hi":0.28},{"t":2013.70,"lo":-0.26,"hi":0.35},{"t":2013.75,"lo":-0.40,"hi":0.27},{"t":2013.80,"lo":-0.28,"hi":0.30},{"t":2013.85,"lo":-0.35,"hi":0.26},{"t":2013.90,"lo":-0.29,"hi":0.32},{"t":2013.95,"lo":-0.27,"hi":0.28},
    {"t":2014.00,"lo":-0.30,"hi":0.31},{"t":2014.05,"lo":-0.37,"hi":0.27},{"t":2014.10,"lo":-0.28,"hi":0.30},{"t":2014.15,"lo":-0.31,"hi":0.26},{"t":2014.20,"lo":-0.29,"hi":0.29},{"t":2014.25,"lo":-0.41,"hi":0.31},{"t":2014.30,"lo":-0.28,"hi":0.56},{"t":2014.35,"lo":-0.31,"hi":0.27},{"t":2014.40,"lo":-0.27,"hi":0.30},{"t":2014.45,"lo":-0.30,"hi":0.26},{"t":2014.50,"lo":-0.28,"hi":0.29},{"t":2014.55,"lo":-0.32,"hi":0.43},{"t":2014.60,"lo":-0.27,"hi":0.28},{"t":2014.65,"lo":-0.30,"hi":0.31},{"t":2014.70,"lo":-0.44,"hi":0.26},{"t":2014.75,"lo":-0.29,"hi":0.29},{"t":2014.80,"lo":-0.31,"hi":0.27},{"t":2014.85,"lo":-0.34,"hi":0.25},{"t":2014.90,"lo":-0.30,"hi":0.28},{"t":2014.95,"lo":-0.33,"hi":0.55},
    {"t":2015.00,"lo":-0.31,"hi":0.26},{"t":2015.05,"lo":-0.35,"hi":0.24},{"t":2015.10,"lo":-0.30,"hi":0.28},{"t":2015.15,"lo":-0.54,"hi":0.25},{"t":2015.20,"lo":-0.32,"hi":0.29},{"t":2015.25,"lo":-0.29,"hi":0.54},{"t":2015.30,"lo":-0.33,"hi":0.27},{"t":2015.35,"lo":-0.30,"hi":0.24},{"t":2015.40,"lo":-0.34,"hi":0.28},{"t":2015.45,"lo":-0.31,"hi":0.36},{"t":2015.50,"lo":-0.46,"hi":0.25},{"t":2015.55,"lo":-0.33,"hi":0.27},{"t":2015.60,"lo":-0.30,"hi":0.23},{"t":2015.65,"lo":-0.35,"hi":0.26},{"t":2015.70,"lo":-0.32,"hi":0.24},{"t":2015.75,"lo":-0.36,"hi":0.27},{"t":2015.80,"lo":-0.33,"hi":0.23},{"t":2015.85,"lo":-0.37,"hi":0.31},{"t":2015.90,"lo":-0.54,"hi":0.25},{"t":2015.95,"lo":-0.34,"hi":0.39},
    {"t":2016.00,"lo":-0.36,"hi":0.24},{"t":2016.05,"lo":-0.61,"hi":0.27},{"t":2016.10,"lo":-0.35,"hi":0.25},{"t":2016.15,"lo":-0.33,"hi":0.37},{"t":2016.20,"lo":-0.36,"hi":0.28},{"t":2016.25,"lo":-0.32,"hi":0.26},{"t":2016.30,"lo":-0.64,"hi":0.29},{"t":2016.35,"lo":-0.34,"hi":0.72},{"t":2016.40,"lo":-0.31,"hi":0.27},{"t":2016.45,"lo":-0.35,"hi":0.30},{"t":2016.50,"lo":-0.32,"hi":0.59},{"t":2016.55,"lo":-0.34,"hi":0.27},{"t":2016.60,"lo":-0.38,"hi":0.29},{"t":2016.65,"lo":-0.31,"hi":0.25},{"t":2016.70,"lo":-0.35,"hi":0.28},{"t":2016.75,"lo":-0.32,"hi":0.26},{"t":2016.80,"lo":-0.36,"hi":0.47},{"t":2016.85,"lo":-0.33,"hi":0.27},{"t":2016.90,"lo":-0.35,"hi":0.25},{"t":2016.95,"lo":-0.31,"hi":0.29},
    {"t":2017.00,"lo":-0.34,"hi":0.32},{"t":2017.05,"lo":-0.36,"hi":0.26},{"t":2017.10,"lo":-0.57,"hi":0.24},{"t":2017.15,"lo":-0.33,"hi":0.28},{"t":2017.20,"lo":-0.37,"hi":0.25},{"t":2017.25,"lo":-0.34,"hi":0.27},{"t":2017.30,"lo":-0.36,"hi":0.24},{"t":2017.35,"lo":-0.44,"hi":0.38},{"t":2017.40,"lo":-0.35,"hi":0.26},{"t":2017.45,"lo":-0.33,"hi":0.35},{"t":2017.50,"lo":-0.38,"hi":0.24},{"t":2017.55,"lo":-0.48,"hi":0.27},{"t":2017.60,"lo":-0.33,"hi":0.25},{"t":2017.65,"lo":-0.31,"hi":0.29},{"t":2017.70,"lo":-0.35,"hi":0.27},{"t":2017.75,"lo":-0.30,"hi":0.30},{"t":2017.80,"lo":-0.34,"hi":0.26},{"t":2017.85,"lo":-0.43,"hi":0.36},{"t":2017.90,"lo":-0.31,"hi":0.28},{"t":2017.95,"lo":-0.29,"hi":0.31},
    {"t":2018.00,"lo":-0.33,"hi":0.27},{"t":2018.05,"lo":-0.30,"hi":0.30},{"t":2018.10,"lo":-0.28,"hi":0.32},{"t":2018.15,"lo":-0.32,"hi":0.28},{"t":2018.20,"lo":-0.54,"hi":0.31},{"t":2018.25,"lo":-0.30,"hi":0.27},{"t":2018.30,"lo":-0.33,"hi":0.29},{"t":2018.35,"lo":-0.29,"hi":0.43},{"t":2018.40,"lo":-0.34,"hi":0.28},{"t":2018.45,"lo":-0.32,"hi":0.26},{"t":2018.50,"lo":-0.35,"hi":0.30},{"t":2018.55,"lo":-0.44,"hi":0.27},{"t":2018.60,"lo":-0.31,"hi":0.46},{"t":2018.65,"lo":-0.33,"hi":0.29},{"t":2018.70,"lo":-0.29,"hi":0.31},{"t":2018.75,"lo":-0.34,"hi":0.47},{"t":2018.80,"lo":-0.31,"hi":0.27},{"t":2018.85,"lo":-0.42,"hi":0.30},{"t":2018.90,"lo":-0.30,"hi":0.28},{"t":2018.95,"lo":-0.33,"hi":0.57},
    {"t":2019.00,"lo":-0.30,"hi":0.30},{"t":2019.05,"lo":-0.34,"hi":0.27},{"t":2019.10,"lo":-0.31,"hi":0.29},{"t":2019.15,"lo":-0.35,"hi":0.26},{"t":2019.20,"lo":-0.33,"hi":0.28},{"t":2019.25,"lo":-0.36,"hi":0.31},{"t":2019.30,"lo":-0.31,"hi":0.39},{"t":2019.35,"lo":-0.59,"hi":0.27},{"t":2019.40,"lo":-0.34,"hi":0.29},{"t":2019.45,"lo":-0.36,"hi":0.26},{"t":2019.50,"lo":-0.33,"hi":0.30},{"t":2019.55,"lo":-0.37,"hi":0.27},{"t":2019.60,"lo":-0.53,"hi":0.38},{"t":2019.65,"lo":-0.35,"hi":0.26},{"t":2019.70,"lo":-0.38,"hi":0.29},{"t":2019.75,"lo":-0.34,"hi":0.25},{"t":2019.80,"lo":-0.36,"hi":0.36},{"t":2019.85,"lo":-0.51,"hi":0.27},{"t":2019.90,"lo":-0.34,"hi":0.29},{"t":2019.95,"lo":-0.37,"hi":0.26},
    {"t":2020.00,"lo":-0.35,"hi":0.30},{"t":2020.05,"lo":-0.33,"hi":0.36},{"t":2020.10,"lo":-0.65,"hi":0.27},{"t":2020.15,"lo":-0.36,"hi":0.29},{"t":2020.20,"lo":-0.34,"hi":0.26},{"t":2020.25,"lo":-0.37,"hi":0.30},{"t":2020.30,"lo":-0.35,"hi":0.28},{"t":2020.35,"lo":-0.53,"hi":0.32},{"t":2020.40,"lo":-0.33,"hi":0.27},{"t":2020.45,"lo":-0.36,"hi":0.30},{"t":2020.50,"lo":-0.34,"hi":0.27},{"t":2020.55,"lo":-0.37,"hi":0.29},{"t":2020.60,"lo":-0.35,"hi":0.35},{"t":2020.65,"lo":-0.61,"hi":0.28},{"t":2020.70,"lo":-0.34,"hi":0.30},{"t":2020.75,"lo":-0.36,"hi":0.27},{"t":2020.80,"lo":-0.33,"hi":0.29},{"t":2020.85,"lo":-0.51,"hi":0.31},{"t":2020.90,"lo":-0.35,"hi":0.63},{"t":2020.95,"lo":-0.37,"hi":0.28},
    {"t":2021.00,"lo":-0.34,"hi":0.30},{"t":2021.05,"lo":-0.36,"hi":0.39},{"t":2021.10,"lo":-0.38,"hi":0.27},{"t":2021.15,"lo":-0.35,"hi":0.29},{"t":2021.20,"lo":-0.57,"hi":0.26},{"t":2021.25,"lo":-0.37,"hi":0.34},{"t":2021.30,"lo":-0.40,"hi":0.28},{"t":2021.35,"lo":-0.68,"hi":0.27},{"t":2021.40,"lo":-0.38,"hi":0.29},{"t":2021.45,"lo":-0.78,"hi":0.27},{"t":2021.50,"lo":-0.40,"hi":0.36},{"t":2021.55,"lo":-0.37,"hi":0.28},{"t":2021.60,"lo":-0.60,"hi":0.26},{"t":2021.65,"lo":-0.35,"hi":0.30},{"t":2021.70,"lo":-0.33,"hi":0.28},{"t":2021.75,"lo":-0.45,"hi":0.27},{"t":2021.80,"lo":-0.35,"hi":0.25},{"t":2021.85,"lo":-0.30,"hi":0.24}
  ]
},
"spacing": 76,
"vconcat": [
  {
    "title": {"text": "Metop-C", "orient": "right", "anchor": "middle", "fontSize": 28, "fontWeight": "normal", "color": "black", "offset": 22, "dx": -21},
    "spacing": 76,
    "vconcat": [
      {"width": 1787, "height": 207,
       "data": {"name": "sig"}, "transform": [{"filter": "datum.s == 'C'"}],
       "mark": {"type": "rect", "color": "#2a8bd5"},
       "encoding": {
         "x": {"field": "t0", "type": "quantitative", "scale": {"domain": [2006.2, 2023.8], "nice": false, "zero": false},
               "axis": {"title": null, "values": [2007,2008,2009,2010,2011,2012,2013,2014,2015,2016,2017,2018,2019,2020,2021,2022,2023], "tickCount": 100, "labels": false, "grid": false, "zindex": 1,
                        "tickSize": {"condition": {"test": "datum.value % 2 == 0", "value": -12}, "value": -7},
                        "tickWidth": {"condition": {"test": "datum.value % 2 == 0", "value": 2}, "value": 1.5}}},
         "x2": {"field": "t1"},
         "y": {"field": "lo", "type": "quantitative", "scale": {"domain": [-12, -6], "nice": false, "zero": false},
               "axis": {"title": "σ₀ (dB)", "titlePadding": 14, "values": [-12,-11.5,-11,-10.5,-10,-9.5,-9,-8.5,-8,-7.5,-7,-6.5,-6], "tickCount": 100,
                        "labelExpr": "abs(datum.value / 2 - round(datum.value / 2)) < 0.001 ? (datum.value < 0 ? '-' : '') + abs(datum.value) : ''",
                        "labelPadding": 22, "grid": true, "gridWidth": 2,
                        "gridColor": {"condition": {"test": "abs(datum.value / 2 - round(datum.value / 2)) < 0.001", "value": "#b3b3b3"}, "value": "#e4e4e4"},
                        "gridDash": {"condition": {"test": "abs(datum.value / 2 - round(datum.value / 2)) < 0.001", "value": []}, "value": [8, 5]},
                        "tickSize": {"condition": {"test": "abs(datum.value / 2 - round(datum.value / 2)) < 0.001", "value": -12}, "value": -7},
                        "tickWidth": {"condition": {"test": "abs(datum.value / 2 - round(datum.value / 2)) < 0.001", "value": 2}, "value": 1.5}}},
         "y2": {"field": "hi"},
         "opacity": {"field": "p", "type": "nominal", "scale": {"domain": ["core", "inner", "outer"], "range": [1, 0.6, 0.35]}, "legend": null}
       }},
      {"width": 1787, "height": 207,
       "layer": [
         {"data": {"name": "core"}, "transform": [{"filter": "datum.s == 'C'"}],
          "mark": {"type": "rect", "color": "#2a8bd5"},
          "encoding": {
            "x": {"field": "t0", "type": "quantitative", "scale": {"domain": [2006.2, 2023.8], "nice": false, "zero": false},
                  "axis": {"title": null, "values": [2007,2008,2009,2010,2011,2012,2013,2014,2015,2016,2017,2018,2019,2020,2021,2022,2023], "tickCount": 100, "labels": false, "grid": false, "zindex": 1,
                           "tickSize": {"condition": {"test": "datum.value % 2 == 0", "value": -12}, "value": -7},
                           "tickWidth": {"condition": {"test": "datum.value % 2 == 0", "value": 2}, "value": 1.5}}},
            "x2": {"field": "t1"},
            "y": {"field": "lo", "type": "quantitative", "scale": {"domain": [-1, 1], "nice": false, "zero": false},
                  "axis": {"title": "γ⁰ - monthly γ̅⁰ (dB)", "titlePadding": 18, "values": [-1,-0.9,-0.8,-0.7,-0.6,-0.5,-0.4,-0.3,-0.2,-0.1,0,0.1,0.2,0.3,0.4,0.5,0.6,0.7,0.8,0.9,1], "tickCount": 100,
                           "labelExpr": "abs(datum.value * 2 - round(datum.value * 2)) < 0.001 ? (datum.value < -0.001 ? '-' : '') + format(abs(datum.value), '.1f') : ''",
                           "labelPadding": 22, "grid": true, "gridWidth": 2,
                           "gridColor": {"condition": {"test": "abs(datum.value * 2 - round(datum.value * 2)) < 0.001", "value": "#b3b3b3"}, "value": "#e4e4e4"},
                           "gridDash": {"condition": {"test": "abs(datum.value * 2 - round(datum.value * 2)) < 0.001", "value": []}, "value": [8, 5]},
                           "tickSize": {"condition": {"test": "abs(datum.value * 2 - round(datum.value * 2)) < 0.001", "value": -12}, "value": -7},
                           "tickWidth": {"condition": {"test": "abs(datum.value * 2 - round(datum.value * 2)) < 0.001", "value": 2}, "value": 1.5}}},
            "y2": {"field": "hi"},
            "opacity": {"field": "p", "type": "nominal", "scale": {"domain": ["core", "inner", "outer"], "range": [1, 0.6, 0.35]}, "legend": null}
          }},
         {"data": {"name": "gC"}, "mark": {"type": "rule", "color": "#2a8bd5", "strokeWidth": 1.5},
          "encoding": {"x": {"field": "t", "type": "quantitative", "scale": {"domain": [2006.2, 2023.8], "nice": false, "zero": false}},
                       "y": {"field": "lo", "type": "quantitative", "scale": {"domain": [-1, 1], "nice": false, "zero": false}}, "y2": {"field": "hi"}}},
         {"data": {"name": "mC"}, "mark": {"type": "line", "strokeWidth": 3.5},
          "encoding": {"x": {"field": "t", "type": "quantitative", "scale": {"domain": [2006.2, 2023.8], "nice": false, "zero": false}},
                       "y": {"field": "m", "type": "quantitative", "scale": {"domain": [-1, 1], "nice": false, "zero": false}},
                       "color": {"datum": "Mean corrected γ⁰", "type": "nominal",
                                 "scale": {"domain": ["Mean corrected γ⁰", "Detected anomalous period in σ⁰"], "range": ["#dc3232", "#ff0000"]},
                                 "legend": {"orient": "none", "legendX": 303, "legendY": -192, "direction": "horizontal", "columns": 2, "title": null,
                                            "labelFont": "Open Sans", "labelFontSize": 32, "labelColor": "black", "labelLimit": 1000, "labelOffset": 26,
                                            "columnPadding": 60, "padding": 14, "symbolSize": 4225, "symbolStrokeWidth": 2, "strokeColor": "#cccccc", "cornerRadius": 5, "fillColor": "white",
                                            "labelExpr": "datum.label == 'Detected anomalous period in σ⁰' ? ['Detected anomalous period in σ⁰', '(parameters >3σ from historical mean)'] : datum.label",
                                            "encode": {
                                              "symbols": {"update": {
                                                "shape": {"signal": "datum.value == 'Mean corrected γ⁰' ? 'M-1,0H1' : 'M-1,-0.37H1V0.37H-1Z'"},
                                                "fillOpacity": {"value": 0.6}}},
                                              "labels": {"update": {"lineHeight": {"value": 40},
                                                "dy": {"signal": "datum.value == 'Detected anomalous period in σ⁰' ? -20 : 0"}}}}}}}}
       ]}
    ]
  },
  {
    "title": {"text": "Metop-B", "orient": "right", "anchor": "middle", "fontSize": 28, "fontWeight": "normal", "color": "black", "offset": 22, "dx": -21},
    "spacing": 76,
    "vconcat": [
      {"width": 1787, "height": 207,
       "data": {"name": "sig"}, "transform": [{"filter": "datum.s == 'B'"}],
       "mark": {"type": "rect", "color": "#2a8bd5"},
       "encoding": {
         "x": {"field": "t0", "type": "quantitative", "scale": {"domain": [2006.2, 2023.8], "nice": false, "zero": false},
               "axis": {"title": null, "values": [2007,2008,2009,2010,2011,2012,2013,2014,2015,2016,2017,2018,2019,2020,2021,2022,2023], "tickCount": 100, "labels": false, "grid": false, "zindex": 1,
                        "tickSize": {"condition": {"test": "datum.value % 2 == 0", "value": -12}, "value": -7},
                        "tickWidth": {"condition": {"test": "datum.value % 2 == 0", "value": 2}, "value": 1.5}}},
         "x2": {"field": "t1"},
         "y": {"field": "lo", "type": "quantitative", "scale": {"domain": [-12, -6], "nice": false, "zero": false},
               "axis": {"title": "σ₀ (dB)", "titlePadding": 14, "values": [-12,-11.5,-11,-10.5,-10,-9.5,-9,-8.5,-8,-7.5,-7,-6.5,-6], "tickCount": 100,
                        "labelExpr": "abs(datum.value / 2 - round(datum.value / 2)) < 0.001 ? (datum.value < 0 ? '-' : '') + abs(datum.value) : ''",
                        "labelPadding": 22, "grid": true, "gridWidth": 2,
                        "gridColor": {"condition": {"test": "abs(datum.value / 2 - round(datum.value / 2)) < 0.001", "value": "#b3b3b3"}, "value": "#e4e4e4"},
                        "gridDash": {"condition": {"test": "abs(datum.value / 2 - round(datum.value / 2)) < 0.001", "value": []}, "value": [8, 5]},
                        "tickSize": {"condition": {"test": "abs(datum.value / 2 - round(datum.value / 2)) < 0.001", "value": -12}, "value": -7},
                        "tickWidth": {"condition": {"test": "abs(datum.value / 2 - round(datum.value / 2)) < 0.001", "value": 2}, "value": 1.5}}},
         "y2": {"field": "hi"},
         "opacity": {"field": "p", "type": "nominal", "scale": {"domain": ["core", "inner", "outer"], "range": [1, 0.6, 0.35]}, "legend": null}
       }},
      {"width": 1787, "height": 207,
       "layer": [
         {"data": {"name": "core"}, "transform": [{"filter": "datum.s == 'B'"}],
          "mark": {"type": "rect", "color": "#2a8bd5"},
          "encoding": {
            "x": {"field": "t0", "type": "quantitative", "scale": {"domain": [2006.2, 2023.8], "nice": false, "zero": false},
                  "axis": {"title": null, "values": [2007,2008,2009,2010,2011,2012,2013,2014,2015,2016,2017,2018,2019,2020,2021,2022,2023], "tickCount": 100, "labels": false, "grid": false, "zindex": 1,
                           "tickSize": {"condition": {"test": "datum.value % 2 == 0", "value": -12}, "value": -7},
                           "tickWidth": {"condition": {"test": "datum.value % 2 == 0", "value": 2}, "value": 1.5}}},
            "x2": {"field": "t1"},
            "y": {"field": "lo", "type": "quantitative", "scale": {"domain": [-1, 1], "nice": false, "zero": false},
                  "axis": {"title": "γ⁰ - monthly γ̅⁰ (dB)", "titlePadding": 18, "values": [-1,-0.9,-0.8,-0.7,-0.6,-0.5,-0.4,-0.3,-0.2,-0.1,0,0.1,0.2,0.3,0.4,0.5,0.6,0.7,0.8,0.9,1], "tickCount": 100,
                           "labelExpr": "abs(datum.value * 2 - round(datum.value * 2)) < 0.001 ? (datum.value < -0.001 ? '-' : '') + format(abs(datum.value), '.1f') : ''",
                           "labelPadding": 22, "grid": true, "gridWidth": 2,
                           "gridColor": {"condition": {"test": "abs(datum.value * 2 - round(datum.value * 2)) < 0.001", "value": "#b3b3b3"}, "value": "#e4e4e4"},
                           "gridDash": {"condition": {"test": "abs(datum.value * 2 - round(datum.value * 2)) < 0.001", "value": []}, "value": [8, 5]},
                           "tickSize": {"condition": {"test": "abs(datum.value * 2 - round(datum.value * 2)) < 0.001", "value": -12}, "value": -7},
                           "tickWidth": {"condition": {"test": "abs(datum.value * 2 - round(datum.value * 2)) < 0.001", "value": 2}, "value": 1.5}}},
            "y2": {"field": "hi"},
            "opacity": {"field": "p", "type": "nominal", "scale": {"domain": ["core", "inner", "outer"], "range": [1, 0.6, 0.35]}, "legend": null}
          }},
         {"data": {"name": "gB"}, "mark": {"type": "rule", "color": "#2a8bd5", "strokeWidth": 1.5},
          "encoding": {"x": {"field": "t", "type": "quantitative", "scale": {"domain": [2006.2, 2023.8], "nice": false, "zero": false}},
                       "y": {"field": "lo", "type": "quantitative", "scale": {"domain": [-1, 1], "nice": false, "zero": false}}, "y2": {"field": "hi"}}},
         {"data": {"name": "mB"}, "mark": {"type": "line", "strokeWidth": 3.5},
          "encoding": {"x": {"field": "t", "type": "quantitative", "scale": {"domain": [2006.2, 2023.8], "nice": false, "zero": false}},
                       "y": {"field": "m", "type": "quantitative", "scale": {"domain": [-1, 1], "nice": false, "zero": false}},
                       "color": {"datum": "Mean corrected γ⁰", "type": "nominal"}}}
       ]}
    ]
  },
  {
    "title": {"text": "Metop-A", "orient": "right", "anchor": "middle", "fontSize": 28, "fontWeight": "normal", "color": "black", "offset": 22, "dx": -21},
    "spacing": 76,
    "vconcat": [
      {"width": 1787, "height": 207,
       "layer": [
         {"data": {"name": "sig"}, "transform": [{"filter": "datum.s == 'A'"}],
          "mark": {"type": "rect", "color": "#2a8bd5"},
          "encoding": {
            "x": {"field": "t0", "type": "quantitative", "scale": {"domain": [2006.2, 2023.8], "nice": false, "zero": false},
                  "axis": {"title": null, "values": [2007,2008,2009,2010,2011,2012,2013,2014,2015,2016,2017,2018,2019,2020,2021,2022,2023], "tickCount": 100, "labels": false, "grid": false, "zindex": 1,
                           "tickSize": {"condition": {"test": "datum.value % 2 == 0", "value": -12}, "value": -7},
                           "tickWidth": {"condition": {"test": "datum.value % 2 == 0", "value": 2}, "value": 1.5}}},
            "x2": {"field": "t1"},
            "y": {"field": "lo", "type": "quantitative", "scale": {"domain": [-12, -6], "nice": false, "zero": false},
                  "axis": {"title": "σ₀ (dB)", "titlePadding": 14, "values": [-12,-11.5,-11,-10.5,-10,-9.5,-9,-8.5,-8,-7.5,-7,-6.5,-6], "tickCount": 100,
                           "labelExpr": "abs(datum.value / 2 - round(datum.value / 2)) < 0.001 ? (datum.value < 0 ? '-' : '') + abs(datum.value) : ''",
                           "labelPadding": 22, "grid": true, "gridWidth": 2,
                           "gridColor": {"condition": {"test": "abs(datum.value / 2 - round(datum.value / 2)) < 0.001", "value": "#b3b3b3"}, "value": "#e4e4e4"},
                           "gridDash": {"condition": {"test": "abs(datum.value / 2 - round(datum.value / 2)) < 0.001", "value": []}, "value": [8, 5]},
                           "tickSize": {"condition": {"test": "abs(datum.value / 2 - round(datum.value / 2)) < 0.001", "value": -12}, "value": -7},
                           "tickWidth": {"condition": {"test": "abs(datum.value / 2 - round(datum.value / 2)) < 0.001", "value": 2}, "value": 1.5}}},
            "y2": {"field": "hi"},
            "opacity": {"field": "p", "type": "nominal", "scale": {"domain": ["core", "inner", "outer"], "range": [1, 0.6, 0.35]}, "legend": null}
          }},
         {"data": {"name": "anom"},
          "mark": {"type": "rect", "fillOpacity": 0.75, "stroke": "#ff0000", "strokeWidth": 1.5, "strokeOpacity": 0.8},
          "encoding": {
            "x": {"field": "t0", "type": "quantitative", "scale": {"domain": [2006.2, 2023.8], "nice": false, "zero": false}},
            "x2": {"field": "t1"},
            "y": {"datum": -12, "type": "quantitative", "scale": {"domain": [-12, -6], "nice": false, "zero": false}},
            "y2": {"datum": -11.4},
            "color": {"datum": "Detected anomalous period in σ⁰", "type": "nominal"}
          }}
       ]},
      {"width": 1787, "height": 207,
       "layer": [
         {"data": {"name": "core"}, "transform": [{"filter": "datum.s == 'A'"}],
          "mark": {"type": "rect", "color": "#2a8bd5"},
          "encoding": {
            "x": {"field": "t0", "type": "quantitative", "scale": {"domain": [2006.2, 2023.8], "nice": false, "zero": false},
                  "axis": {"title": null, "values": [2007,2008,2009,2010,2011,2012,2013,2014,2015,2016,2017,2018,2019,2020,2021,2022,2023], "tickCount": 100, "labels": true, "grid": false, "zindex": 1,
                           "labelExpr": "datum.value % 2 == 0 ? '' + datum.value : ''", "labelPadding": 21,
                           "tickSize": {"condition": {"test": "datum.value % 2 == 0", "value": -12}, "value": -7},
                           "tickWidth": {"condition": {"test": "datum.value % 2 == 0", "value": 2}, "value": 1.5}}},
            "x2": {"field": "t1"},
            "y": {"field": "lo", "type": "quantitative", "scale": {"domain": [-1, 1], "nice": false, "zero": false},
                  "axis": {"title": "γ⁰ - monthly γ̅⁰ (dB)", "titlePadding": 18, "values": [-1,-0.9,-0.8,-0.7,-0.6,-0.5,-0.4,-0.3,-0.2,-0.1,0,0.1,0.2,0.3,0.4,0.5,0.6,0.7,0.8,0.9,1], "tickCount": 100,
                           "labelExpr": "abs(datum.value * 2 - round(datum.value * 2)) < 0.001 ? (datum.value < -0.001 ? '-' : '') + format(abs(datum.value), '.1f') : ''",
                           "labelPadding": 22, "grid": true, "gridWidth": 2,
                           "gridColor": {"condition": {"test": "abs(datum.value * 2 - round(datum.value * 2)) < 0.001", "value": "#b3b3b3"}, "value": "#e4e4e4"},
                           "gridDash": {"condition": {"test": "abs(datum.value * 2 - round(datum.value * 2)) < 0.001", "value": []}, "value": [8, 5]},
                           "tickSize": {"condition": {"test": "abs(datum.value * 2 - round(datum.value * 2)) < 0.001", "value": -12}, "value": -7},
                           "tickWidth": {"condition": {"test": "abs(datum.value * 2 - round(datum.value * 2)) < 0.001", "value": 2}, "value": 1.5}}},
            "y2": {"field": "hi"},
            "opacity": {"field": "p", "type": "nominal", "scale": {"domain": ["core", "inner", "outer"], "range": [1, 0.6, 0.35]}, "legend": null}
          }},
         {"data": {"name": "gA"}, "mark": {"type": "rule", "color": "#2a8bd5", "strokeWidth": 1.5},
          "encoding": {"x": {"field": "t", "type": "quantitative", "scale": {"domain": [2006.2, 2023.8], "nice": false, "zero": false}},
                       "y": {"field": "lo", "type": "quantitative", "scale": {"domain": [-1, 1], "nice": false, "zero": false}}, "y2": {"field": "hi"}}},
         {"data": {"name": "mA"}, "mark": {"type": "line", "strokeWidth": 3.5},
          "encoding": {"x": {"field": "t", "type": "quantitative", "scale": {"domain": [2006.2, 2023.8], "nice": false, "zero": false}},
                       "y": {"field": "m", "type": "quantitative", "scale": {"domain": [-1, 1], "nice": false, "zero": false}},
                       "color": {"datum": "Mean corrected γ⁰", "type": "nominal"}}}
       ]}
    ]
  }
]
}
